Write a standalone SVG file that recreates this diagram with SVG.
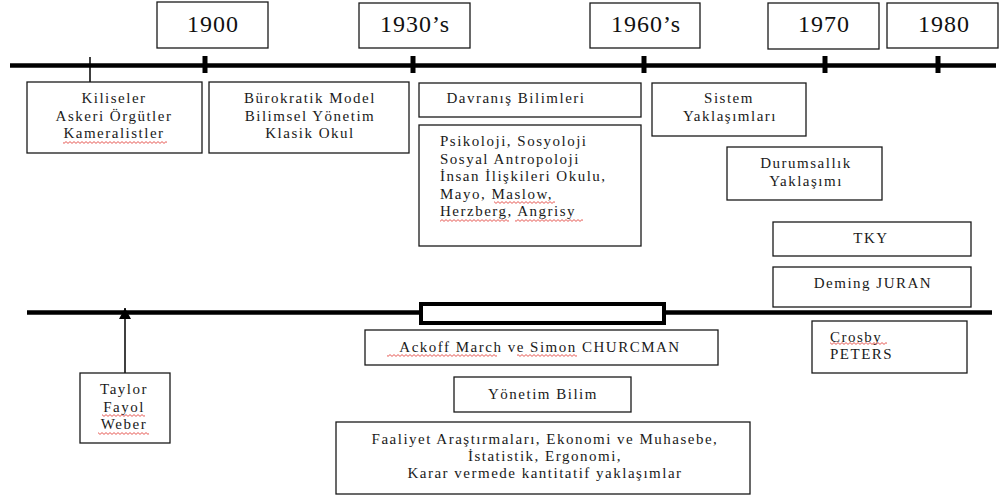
<svg xmlns="http://www.w3.org/2000/svg" width="1004" height="499" viewBox="0 0 1004 499">
<style>
.box{fill:#fff;stroke:#1a1a1a;stroke-width:1.3}
.yr{font-family:"Liberation Serif","Times New Roman",serif;font-size:24px;letter-spacing:1px;fill:#111;text-anchor:middle}
.t{font-family:"Liberation Serif","Times New Roman",serif;font-size:15px;letter-spacing:1.5px;fill:#1a1a1a}
.c{text-anchor:middle}
.axis{stroke:#000;stroke-width:4.5;fill:none}
.tick{stroke:#000;stroke-width:5}
.sq{fill:url(#squig)}
</style>
<defs>
<pattern id="squig" width="4" height="3" patternUnits="userSpaceOnUse">
<path d="M0 2.4 L2 0.6 L4 2.4" stroke="#e0302a" stroke-width="0.8" fill="none"/>
</pattern>
<marker id="arr" markerWidth="12" markerHeight="12" refX="11" refY="6" orient="auto" markerUnits="userSpaceOnUse">
<path d="M0 0 L11 6 L0 12 Z" fill="#000"/>
</marker>
</defs>

<g id="connectors">
<line class="axis" x1="10" y1="65.5" x2="996" y2="65.5"/>
<line class="tick" x1="205" y1="56" x2="205" y2="73"/>
<line class="tick" x1="413" y1="56" x2="413" y2="73"/>
<line class="tick" x1="644" y1="56" x2="644" y2="73"/>
<line class="tick" x1="825" y1="56" x2="825" y2="73"/>
<line class="tick" x1="938" y1="56" x2="938" y2="73"/>
<line x1="90" y1="57" x2="90" y2="82" stroke="#000" stroke-width="1.5"/>
<line class="axis" x1="27" y1="312.5" x2="992" y2="312.5"/>
<line x1="125" y1="373" x2="125" y2="308" stroke="#000" stroke-width="1.5" marker-end="url(#arr)"/>
<rect x="421" y="304" width="243" height="19" fill="#fff" stroke="#000" stroke-width="4"/>
</g>

<g id="y1900"><rect class="box" x="157" y="2" width="111" height="46"/><text class="yr" x="213" y="32">1900</text></g>
<g id="y1930"><rect class="box" x="359" y="3" width="111" height="45"/><text class="yr" x="415" y="32">1930’s</text></g>
<g id="y1960"><rect class="box" x="590" y="3" width="110" height="45"/><text class="yr" x="646" y="32">1960’s</text></g>
<g id="y1970"><rect class="box" x="768" y="3" width="111" height="46"/><text class="yr" x="824" y="32">1970</text></g>
<g id="y1980"><rect class="box" x="887" y="3" width="111" height="45"/><text class="yr" x="944" y="32">1980</text></g>

<g id="kiliseler"><rect class="box" x="27" y="82" width="175" height="71"/>
<text class="t c" x="114" y="103">Kiliseler</text>
<text class="t c" x="114" y="120.5">Askeri Örgütler</text>
<text class="t c" x="114" y="138">Kameralistler</text>
<rect class="sq" x="63" y="141" width="104" height="3"/></g>

<g id="burokratik"><rect class="box" x="209" y="82" width="200" height="71"/>
<text class="t c" x="310" y="103">Bürokratik Model</text>
<text class="t c" x="310" y="120.5">Bilimsel Yönetim</text>
<text class="t c" x="310" y="138">Klasik Okul</text></g>

<g id="davranis"><rect class="box" x="419" y="83" width="222" height="34"/>
<text class="t c" x="516" y="103">Davranış Bilimleri</text></g>

<g id="psikoloji"><rect class="box" x="419" y="125" width="222" height="121"/>
<text class="t" x="440" y="146">Psikoloji, Sosyoloji</text>
<text class="t" x="440" y="163.5">Sosyal Antropoloji</text>
<text class="t" x="440" y="181">İnsan İlişkileri Okulu,</text>
<text class="t" x="440" y="198.5">Mayo, Maslow,</text>
<text class="t" x="440" y="216">Herzberg, Angrisy</text>
<rect class="sq" x="494" y="201" width="61" height="3"/>
<rect class="sq" x="440" y="219" width="69" height="3"/>
<rect class="sq" x="515" y="219" width="68" height="3"/></g>

<g id="sistem"><rect class="box" x="652" y="83" width="154" height="53"/>
<text class="t c" x="729" y="103">Sistem</text>
<text class="t c" x="730" y="120.5">Yaklaşımları</text></g>

<g id="durumsallik"><rect class="box" x="727" y="147" width="155" height="53"/>
<text class="t c" x="806" y="168">Durumsallık</text>
<text class="t c" x="806" y="186">Yaklaşımı</text></g>

<g id="tky"><rect class="box" x="773" y="222" width="198" height="34"/>
<text class="t c" x="871" y="242.5">TKY</text></g>

<g id="deming"><rect class="box" x="773" y="267" width="198" height="40"/>
<text class="t c" x="873" y="287.5">Deming JURAN</text></g>

<g id="crosby"><rect class="box" x="812" y="321" width="155" height="52"/>
<text class="t" x="830" y="341.5">Crosby</text>
<text class="t" x="830" y="359">PETERS</text>
<rect class="sq" x="830" y="342" width="57" height="3"/></g>

<g id="taylor"><rect class="box" x="80" y="373" width="90" height="70"/>
<text class="t c" x="124" y="394">Taylor</text>
<text class="t c" x="124" y="411.5">Fayol</text>
<text class="t c" x="124" y="429">Weber</text>
<rect class="sq" x="102" y="414" width="43" height="3"/>
<rect class="sq" x="98" y="432" width="51" height="3"/></g>

<g id="ackoff"><rect class="box" x="365" y="330" width="353" height="35"/>
<text class="t c" x="540" y="351.5">Ackoff March ve Simon CHURCMAN</text>
<rect class="sq" x="387" y="354" width="110" height="3"/>
<rect class="sq" x="517" y="354" width="60" height="3"/></g>

<g id="yonetim"><rect class="box" x="454" y="377" width="177" height="35"/>
<text class="t c" x="543" y="399">Yönetim Bilim</text></g>

<g id="faaliyet"><rect class="box" x="336" y="422" width="414" height="72"/>
<text class="t c" x="545" y="444">Faaliyet Araştırmaları, Ekonomi ve Muhasebe,</text>
<text class="t c" x="545" y="460.5">İstatistik, Ergonomi,</text>
<text class="t c" x="545" y="478">Karar vermede kantitatif yaklaşımlar</text></g>
</svg>
